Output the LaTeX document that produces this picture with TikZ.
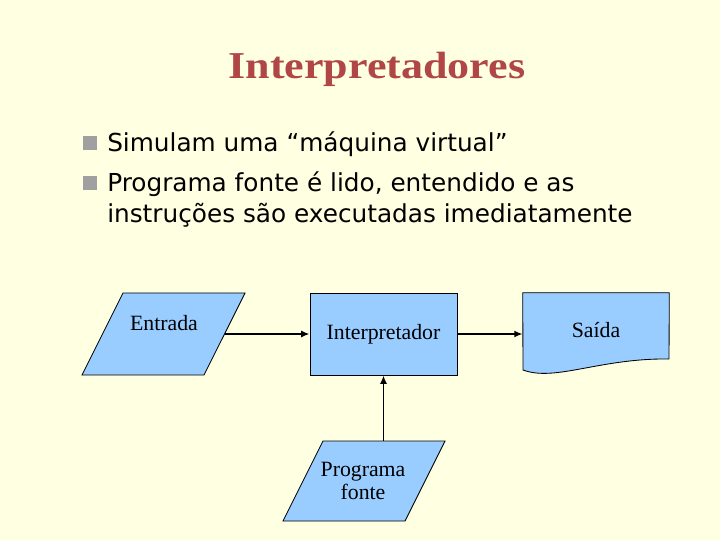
\documentclass[tikz,border=0pt]{standalone}
\usepackage{fontspec}
\setmainfont{Liberation Serif}
\setsansfont{DejaVu Sans}
\newfontfamily\titlefont[FakeStretch=1.16]{Liberation Serif}
\usetikzlibrary{positioning,shapes.geometric,arrows.meta}
\definecolor{slidebg}{RGB}{255,255,226}
\definecolor{boxblue}{RGB}{153,204,255}
\definecolor{titlered}{RGB}{176,70,70}
\definecolor{bulletgray}{RGB}{160,160,160}

\begin{document}
\begin{tikzpicture}[x=0.025cm,y=-0.025cm,>={Latex[length=6pt,width=5pt]},
    blk/.style={draw,line width=0.6pt,fill=boxblue,font=\fontsize{15.5}{16}\selectfont},
    para/.style={draw,line width=0.6pt,fill=boxblue,shape=trapezium,trapezium left angle=63.43,
      trapezium right angle=116.57,inner sep=0pt,text depth=0pt},
    lbl/.style={align=center,inner sep=0pt,font=\fontsize{15.5}{17}\selectfont},
    bsq/.style={fill=bulletgray,minimum size=0.35cm,inner sep=0pt},
    btxt/.style={anchor=base west,inner sep=0pt,font=\sffamily\fontsize{17.6}{20}\selectfont},
    flow/.style={->,line width=1.2pt}]
  \fill[slidebg] (0,0) rectangle (720,540);
  % title and bullets
  \node[font=\titlefont\bfseries\fontsize{27}{30}\selectfont,text=titlered] (title) at (377,69) {Interpretadores};
  \node[bsq] (b1) at (90,143) {};
  \node[btxt] (t1) at (107,151) {Simulam uma “máquina virtual”};
  \node[bsq] (b2) at (90,183) {};
  \node[btxt] (t2) at (107,191) {Programa fonte é lido, entendido e as};
  \node[btxt] (t3) at (107,222) {instruções são executadas imediatamente};
  % flow chart
  \node[para,text width=2.025cm,text height=2.05cm] (entrada) at (163.5,334) {};
  \node[lbl] (entradaTxt) at (164,323) {Entrada};
  \node[blk,minimum width=3.675cm,minimum height=2.05cm] (interp) at (383.5,334) {Interpretador};
  \node[minimum width=3.65cm,minimum height=2.05cm,inner sep=0pt] (saida) at (596,334) {};
  \draw[line width=0.6pt,fill=boxblue] (saida.north west) -- (saida.north east) -- (669,359)
    .. controls (600,358) and (555,382) .. (523,370) -- cycle;
  \node[lbl] (saidaTxt) at (596,330) {Saída};
  \node[para,text width=2.05cm,text height=2cm] (prog) at (364,481) {};
  \node[lbl] (progTxt) at (363,481) {Programa\\fonte};
  \draw[flow] (entrada.east) -- (interp.west);
  \draw[flow] (interp.east) -- (saida.west);
  \draw[flow] (interp.south |- prog.north) -- (interp.south);
\end{tikzpicture}
\end{document}
